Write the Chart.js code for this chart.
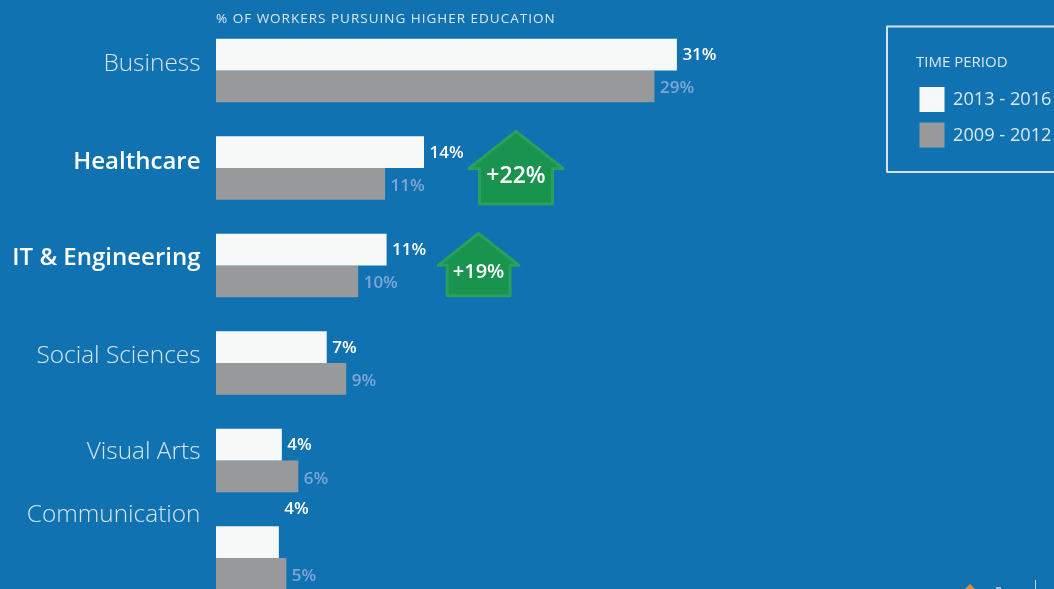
<!DOCTYPE html>
<html><head><meta charset="utf-8">
<script src="https://cdn.jsdelivr.net/npm/chart.js@4"></script>
<style>html,body{margin:0;padding:0;width:1054px;height:589px;overflow:hidden;background:#1172b1}canvas{display:block}</style>
</head><body><canvas id="c" width="1054" height="640"></canvas>
<script>
const categories = ["Business","Healthcare","IT & Engineering","Social Sciences","Visual Arts","Communication"];
const recent = [30.8,13.9,11.4,7.4,4.4,4.2];
const earlier = [29.3,11.3,9.5,8.7,5.5,4.7];
const seriesNames = ["2013 - 2016","2009 - 2012"];
const growth = {"Healthcare":"+22%","IT & Engineering":"+19%"};
const axisTitle = "% OF WORKERS PURSUING HIGHER EDUCATION";
const legendTitle = "TIME PERIOD";

const FONT = '"Open Sans"';
const WHITE='#f7f9f9', GREY='#97999b';
const catOffset = [-6,-6,-7.5,-6.5,-8,-43];
const recentLabelOffset = [-15,-15,-15,-15,-15,-49];
const earlierLabelOffset = [17.5,18,17.5,18,19,18];

const overlay = {
  id:'overlay',
  afterDatasetsDraw(chart){
    const c = chart.ctx, y = chart.scales.y, x = chart.scales.x;
    const m0 = chart.getDatasetMeta(0), m1 = chart.getDatasetMeta(1);
    c.save();
    c.textBaseline='middle';
    c.font='500 13.5px '+FONT; c.fillStyle='#dbe8f2'; c.textAlign='left';
    c.letterSpacing='1px';
    c.fillText(axisTitle, x.left, 19);
    c.letterSpacing='0px';
    categories.forEach((name,i)=>{
      const cy = y.getPixelForValue(i);
      const bold = name in growth;
      c.textAlign='right';
      c.font=(bold?'600 24px ':'300 24.4px ')+FONT;
      c.fillStyle= bold?'#ffffff':'#d5e5f1';
      c.fillText(name, 200.5, cy+catOffset[i]);
      c.textAlign='left';
      c.font='600 17px '+FONT;
      c.fillStyle='#ffffff';
      c.fillText(Math.round(recent[i])+'%', m0.data[i].x+5.5, cy+recentLabelOffset[i]);
      c.fillStyle='#7ea6d6';
      c.fillText(Math.round(earlier[i])+'%', m1.data[i].x+5.5, cy+earlierLabelOffset[i]);
      if(bold){
        const big = name==='Healthcare';
        const s = big?1:0.86;
        const ax = m0.data[i].x+92, top = cy-(big?36.5:32);
        c.beginPath();
        c.moveTo(ax,top);
        c.lineTo(ax+47*s,top+37*s);
        c.lineTo(ax+36.5*s,top+37*s);
        c.lineTo(ax+36.5*s,top+72.5*s);
        c.lineTo(ax-36.5*s,top+72.5*s);
        c.lineTo(ax-36.5*s,top+37*s);
        c.lineTo(ax-47*s,top+37*s);
        c.closePath();
        c.fillStyle='#18944f'; c.strokeStyle='#2aa05a'; c.lineWidth=3; c.lineJoin='round';
        c.fill(); c.stroke();
        c.fillStyle='#ffffff'; c.textAlign='center';
        c.font='600 '+(big?23:20)+'px '+FONT;
        c.fillText(growth[name], ax, top+45*s);
      }
    });
    c.strokeStyle='#d3e3ef'; c.lineWidth=2;
    c.strokeRect(887,26.5,200,145.5);
    c.textAlign='left'; c.fillStyle='#dbe8f2';
    c.font='400 15px '+FONT;
    c.fillText(legendTitle,916,63);
    [WHITE,GREY].forEach((col,i)=>{
      const top = 87+i*35.5;
      c.fillStyle=col; c.fillRect(919.5,top,25,25);
      c.fillStyle='#dbe8f2'; c.font='400 18.2px '+FONT;
      c.fillText(seriesNames[i],953,top+13);
    });
    c.fillStyle='#ef8a2e'; c.beginPath(); c.moveTo(970,584); c.lineTo(977,591); c.lineTo(963,591); c.closePath(); c.fill();
    c.fillStyle='#bcd4e6'; c.fillRect(1035,580,1,10);
    c.fillStyle='#9fc2dc'; c.fillRect(996,587,5,3);
    c.restore();
  }
};

new Chart(document.getElementById('c'),{
  type:'bar',
  data:{labels:categories,datasets:[
    {label:seriesNames[0],data:recent,backgroundColor:WHITE,borderWidth:0},
    {label:seriesNames[1],data:earlier,backgroundColor:GREY,borderWidth:0}
  ]},
  options:{
    indexAxis:'y',responsive:false,animation:false,
    layout:{padding:{left:216,top:21.75,bottom:33.25,right:0}},
    datasets:{bar:{barPercentage:1,categoryPercentage:0.65}},
    scales:{
      x:{display:false,min:0,max:56},
      y:{display:false}
    },
    plugins:{legend:{display:false},tooltip:{enabled:false},title:{display:false}}
  },
  plugins:[overlay]
});
</script></body></html>
